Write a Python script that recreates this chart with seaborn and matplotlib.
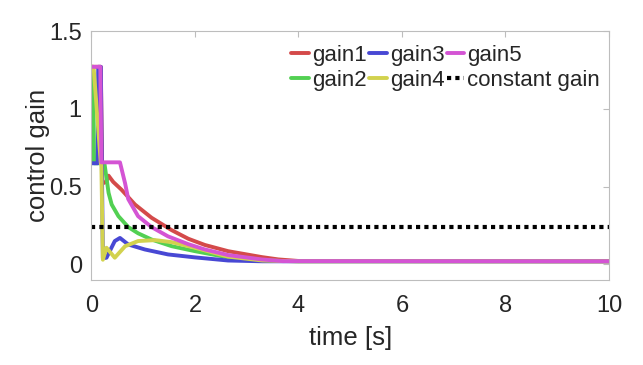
import numpy as np
import pandas as pd
import matplotlib
matplotlib.use('Agg')
import matplotlib.pyplot as plt
import seaborn as sns


# Values (time in s, gain)
t_gain1 = [0, 0.01, 0.18, 0.21, 0.28, 0.33, 0.42, 0.58, 0.84, 1.16, 1.55,
           1.87, 2.19, 2.64, 3.29, 3.61, 4.0, 10]
v_gain1 = [0.88, 1.27, 1.27, 0.52, 0.53, 0.57, 0.53, 0.48, 0.385, 0.30, 0.22,
           0.165, 0.125, 0.085, 0.047, 0.032, 0.022, 0.02]

t_gain2 = [0, 0.01, 0.03, 0.05, 0.25, 0.33, 0.39, 0.52, 0.71, 0.9, 1.16,
           1.55, 2.0, 2.64, 3.3, 4.0, 10]
v_gain2 = [0.65, 1.27, 1.27, 0.65, 0.65, 0.46, 0.385, 0.31, 0.24, 0.20, 0.16,
           0.117, 0.085, 0.045, 0.025, 0.02, 0.02]

t_gain3 = [0, 0.12, 0.13, 0.18, 0.22, 0.29, 0.45, 0.55, 0.71, 1.03, 1.48,
           2.0, 2.64, 3.3, 10]
v_gain3 = [0.65, 0.65, 1.27, 1.27, 0.04, 0.043, 0.15, 0.17, 0.128, 0.096,
           0.064, 0.045, 0.025, 0.02, 0.02]

t_gain4 = [0, 0.04, 0.18, 0.19, 0.22, 0.29, 0.45, 0.65, 0.9, 1.23, 1.55,
           2.0, 2.64, 3.3, 4.0, 10]
v_gain4 = [1.27, 1.27, 0.65, 0.65, 0.03, 0.107, 0.043, 0.117, 0.15, 0.156,
           0.143, 0.107, 0.05, 0.025, 0.02, 0.02]

t_gain5 = [0, 0.17, 0.19, 0.55, 0.65, 0.71, 0.9, 1.16, 1.48, 1.87, 2.19,
           2.64, 3.29, 3.7, 10]
v_gain5 = [1.27, 1.27, 0.656, 0.656, 0.52, 0.42, 0.31, 0.24, 0.18, 0.13,
           0.096, 0.06, 0.032, 0.021, 0.02]

t_const = [0, 10]
v_const = [0.24, 0.24]

series = [('gain1', t_gain1, v_gain1, '#d44a4a'),
          ('gain2', t_gain2, v_gain2, '#52d052'),
          ('gain3', t_gain3, v_gain3, '#4848d4'),
          ('gain4', t_gain4, v_gain4, '#d2d24e'),
          ('gain5', t_gain5, v_gain5, '#d454d4')]

xticks = [0, 2, 4, 6, 8, 10]
yticks = [0, 0.5, 1, 1.5]
ytick_labels = ['0', '0.5', '1', '1.5']


sns.set_theme(style='white')
plt.rcParams['font.family'] = ['Liberation Sans', 'DejaVu Sans']

fig, ax = plt.subplots(figsize=(6.43, 3.65), dpi=100)
fig.subplots_adjust(left=0.1423, right=0.947, top=0.915, bottom=0.233)

for name, t, v, col in series:
    df = pd.DataFrame({'time': t, 'gain': v})
    sns.lineplot(x='time', y='gain', data=df, color=col, lw=2.8,
                 label=name, estimator=None, sort=False, ax=ax)

const_df = pd.DataFrame({'time': t_const, 'gain': v_const})
sns.lineplot(x='time', y='gain', data=const_df, color='black', lw=3,
             linestyle=(0, (1, 1)), label='constant gain', estimator=None,
             ax=ax)

ax.set_xlim(0, 10)
ax.set_ylim(-0.1, 1.5)
ax.set_xticks(xticks)
ax.set_xticklabels([str(x) for x in xticks])
ax.set_yticks(yticks)
ax.set_yticklabels(ytick_labels)
ax.tick_params(direction='in', top=True, right=True, length=4, width=0.8,
               color='#bdbdbd', labelsize=17, labelcolor='#262626')
ax.tick_params(axis='x', pad=10.5)
ax.tick_params(axis='y', pad=7)
for s in ax.spines.values():
    s.set_color('#bdbdbd')
    s.set_linewidth(0.8)

ax.set_xlabel('time [s]', fontsize=18.5, color='#262626', labelpad=7)
ax.set_ylabel('control gain', fontsize=18.5, color='#262626', labelpad=-1)

ax.legend(loc='upper right', bbox_to_anchor=(0.996, 0.97), ncol=3,
          frameon=False, fontsize=16, handlelength=0.8, handletextpad=0.14,
          columnspacing=0.1, labelspacing=0.17, borderaxespad=0.0,
          borderpad=0.3)

plt.savefig('out.png', dpi=100)
